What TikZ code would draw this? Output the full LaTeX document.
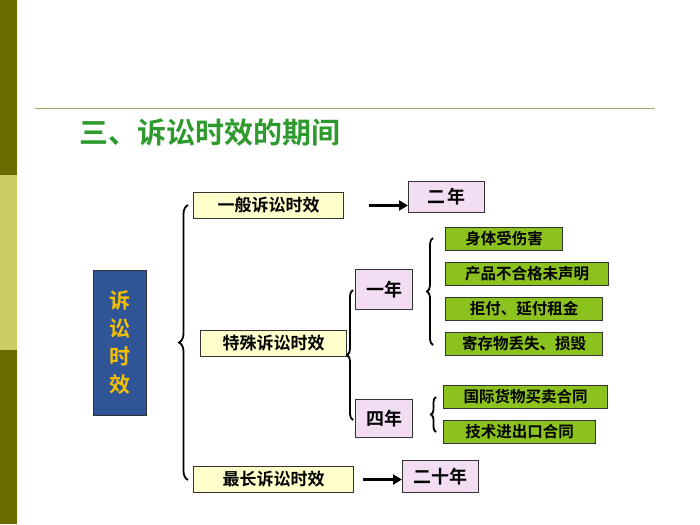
\documentclass[tikz,border=0pt]{standalone}
\usepackage{fontspec}
\setmainfont{Noto Sans CJK SC}[BoldFont={Noto Sans CJK SC Bold}]
\usetikzlibrary{decorations.pathreplacing,arrows.meta}
\definecolor{darkol}{HTML}{6B6B00}
\definecolor{lightol}{HTML}{CDCD66}
\definecolor{ttl}{HTML}{2E9A2E}
\definecolor{yel}{HTML}{FFFFCC}
\definecolor{pink}{HTML}{F3DDF3}
\definecolor{grn}{HTML}{8CC21E}
\definecolor{blu}{HTML}{2F5597}
\definecolor{gold}{HTML}{F5C000}
\tikzset{
 bx/.style={draw=black!80,line width=1pt,inner sep=0pt,anchor=north west,font=\bfseries\fontsize{17}{19}\selectfont},
 ybox/.style={bx,fill=yel},
 pbox/.style={bx,fill=pink,font=\bfseries\fontsize{18}{20}\selectfont},
 gbox/.style={bx,fill=grn,font=\bfseries\fontsize{15.5}{17}\selectfont},
 br/.style={decorate,decoration={brace,amplitude=6pt},line width=1.8pt},
 arr/.style={-{Triangle[length=9pt,width=10pt]},line width=2.6pt}
}
\begin{document}
\begin{tikzpicture}[x=1pt,y=-1pt]
\useasboundingbox (0,0) rectangle (700,524);
\fill[white] (0,0) rectangle (700,524);
\fill[darkol] (0,0) rectangle (17,175);
\fill[lightol] (0,175) rectangle (17,350);
\fill[darkol] (0,350) rectangle (17,524);
\draw[darkol!60,line width=0.8pt] (35,108) -- (655,108);
\node[anchor=west,text=ttl,font=\bfseries\fontsize{29}{32}\selectfont] (title) at (76,133) {三、诉讼时效的期间};
\node[bx,fill=blu,minimum width=53pt,minimum height=145pt,text=gold,font=\bfseries\fontsize{21}{28}\selectfont,align=center] (root) at (93,270) {诉\\讼\\时\\效};
\node[ybox,minimum width=150pt,minimum height=26pt] (gen) at (193,192) {一般诉讼时效};
\node[pbox,minimum width=76pt,minimum height=31pt] (two) at (408,181) {二\,年};
\node[ybox,minimum width=146pt,minimum height=26pt] (spe) at (200,330) {特殊诉讼时效};
\node[pbox,minimum width=57pt,minimum height=40pt] (one) at (355,269) {一年};
\node[pbox,minimum width=57pt,minimum height=38pt] (four) at (355,399) {四年};
\node[gbox,minimum width=117pt,minimum height=23pt] (g1) at (445,227) {身体受伤害};
\node[gbox,minimum width=163pt,minimum height=23pt] (g2) at (445,262) {产品不合格未声明};
\node[gbox,minimum width=157pt,minimum height=23pt] (g3) at (445,297) {拒付、延付租金};
\node[gbox,minimum width=157pt,minimum height=23pt] (g4) at (445,332) {寄存物丢失、损毁};
\node[gbox,minimum width=164pt,minimum height=23pt] (g5) at (443,385) {国际货物买卖合同};
\node[gbox,minimum width=152pt,minimum height=23pt] (g6) at (443,420) {技术进出口合同};
\node[ybox,minimum width=160pt,minimum height=26pt] (lon) at (193,466) {最长诉讼时效};
\node[pbox,minimum width=76pt,minimum height=32pt] (twenty) at (402,460) {二十年};
\coordinate (b1a) at (188,480); \coordinate (b1b) at (188,205);
\draw[br,decoration={amplitude=9pt}] (b1a) -- (b1b);
\coordinate (b2a) at (353,420); \coordinate (b2b) at (353,290);
\draw[br] (b2a) -- (b2b);
\coordinate (b3a) at (433,345); \coordinate (b3b) at (433,238);
\draw[br] (b3a) -- (b3b);
\coordinate (b4a) at (436,432); \coordinate (b4b) at (436,397);
\draw[br,decoration={amplitude=5pt}] (b4a) -- (b4b);
\draw[arr] (gen.east) ++(25,0) coordinate (a1s) -- (two.west |- a1s);
\draw[arr] (lon.east) ++(9,0) coordinate (a2s) -- (twenty.west |- a2s);
\end{tikzpicture}
\end{document}
